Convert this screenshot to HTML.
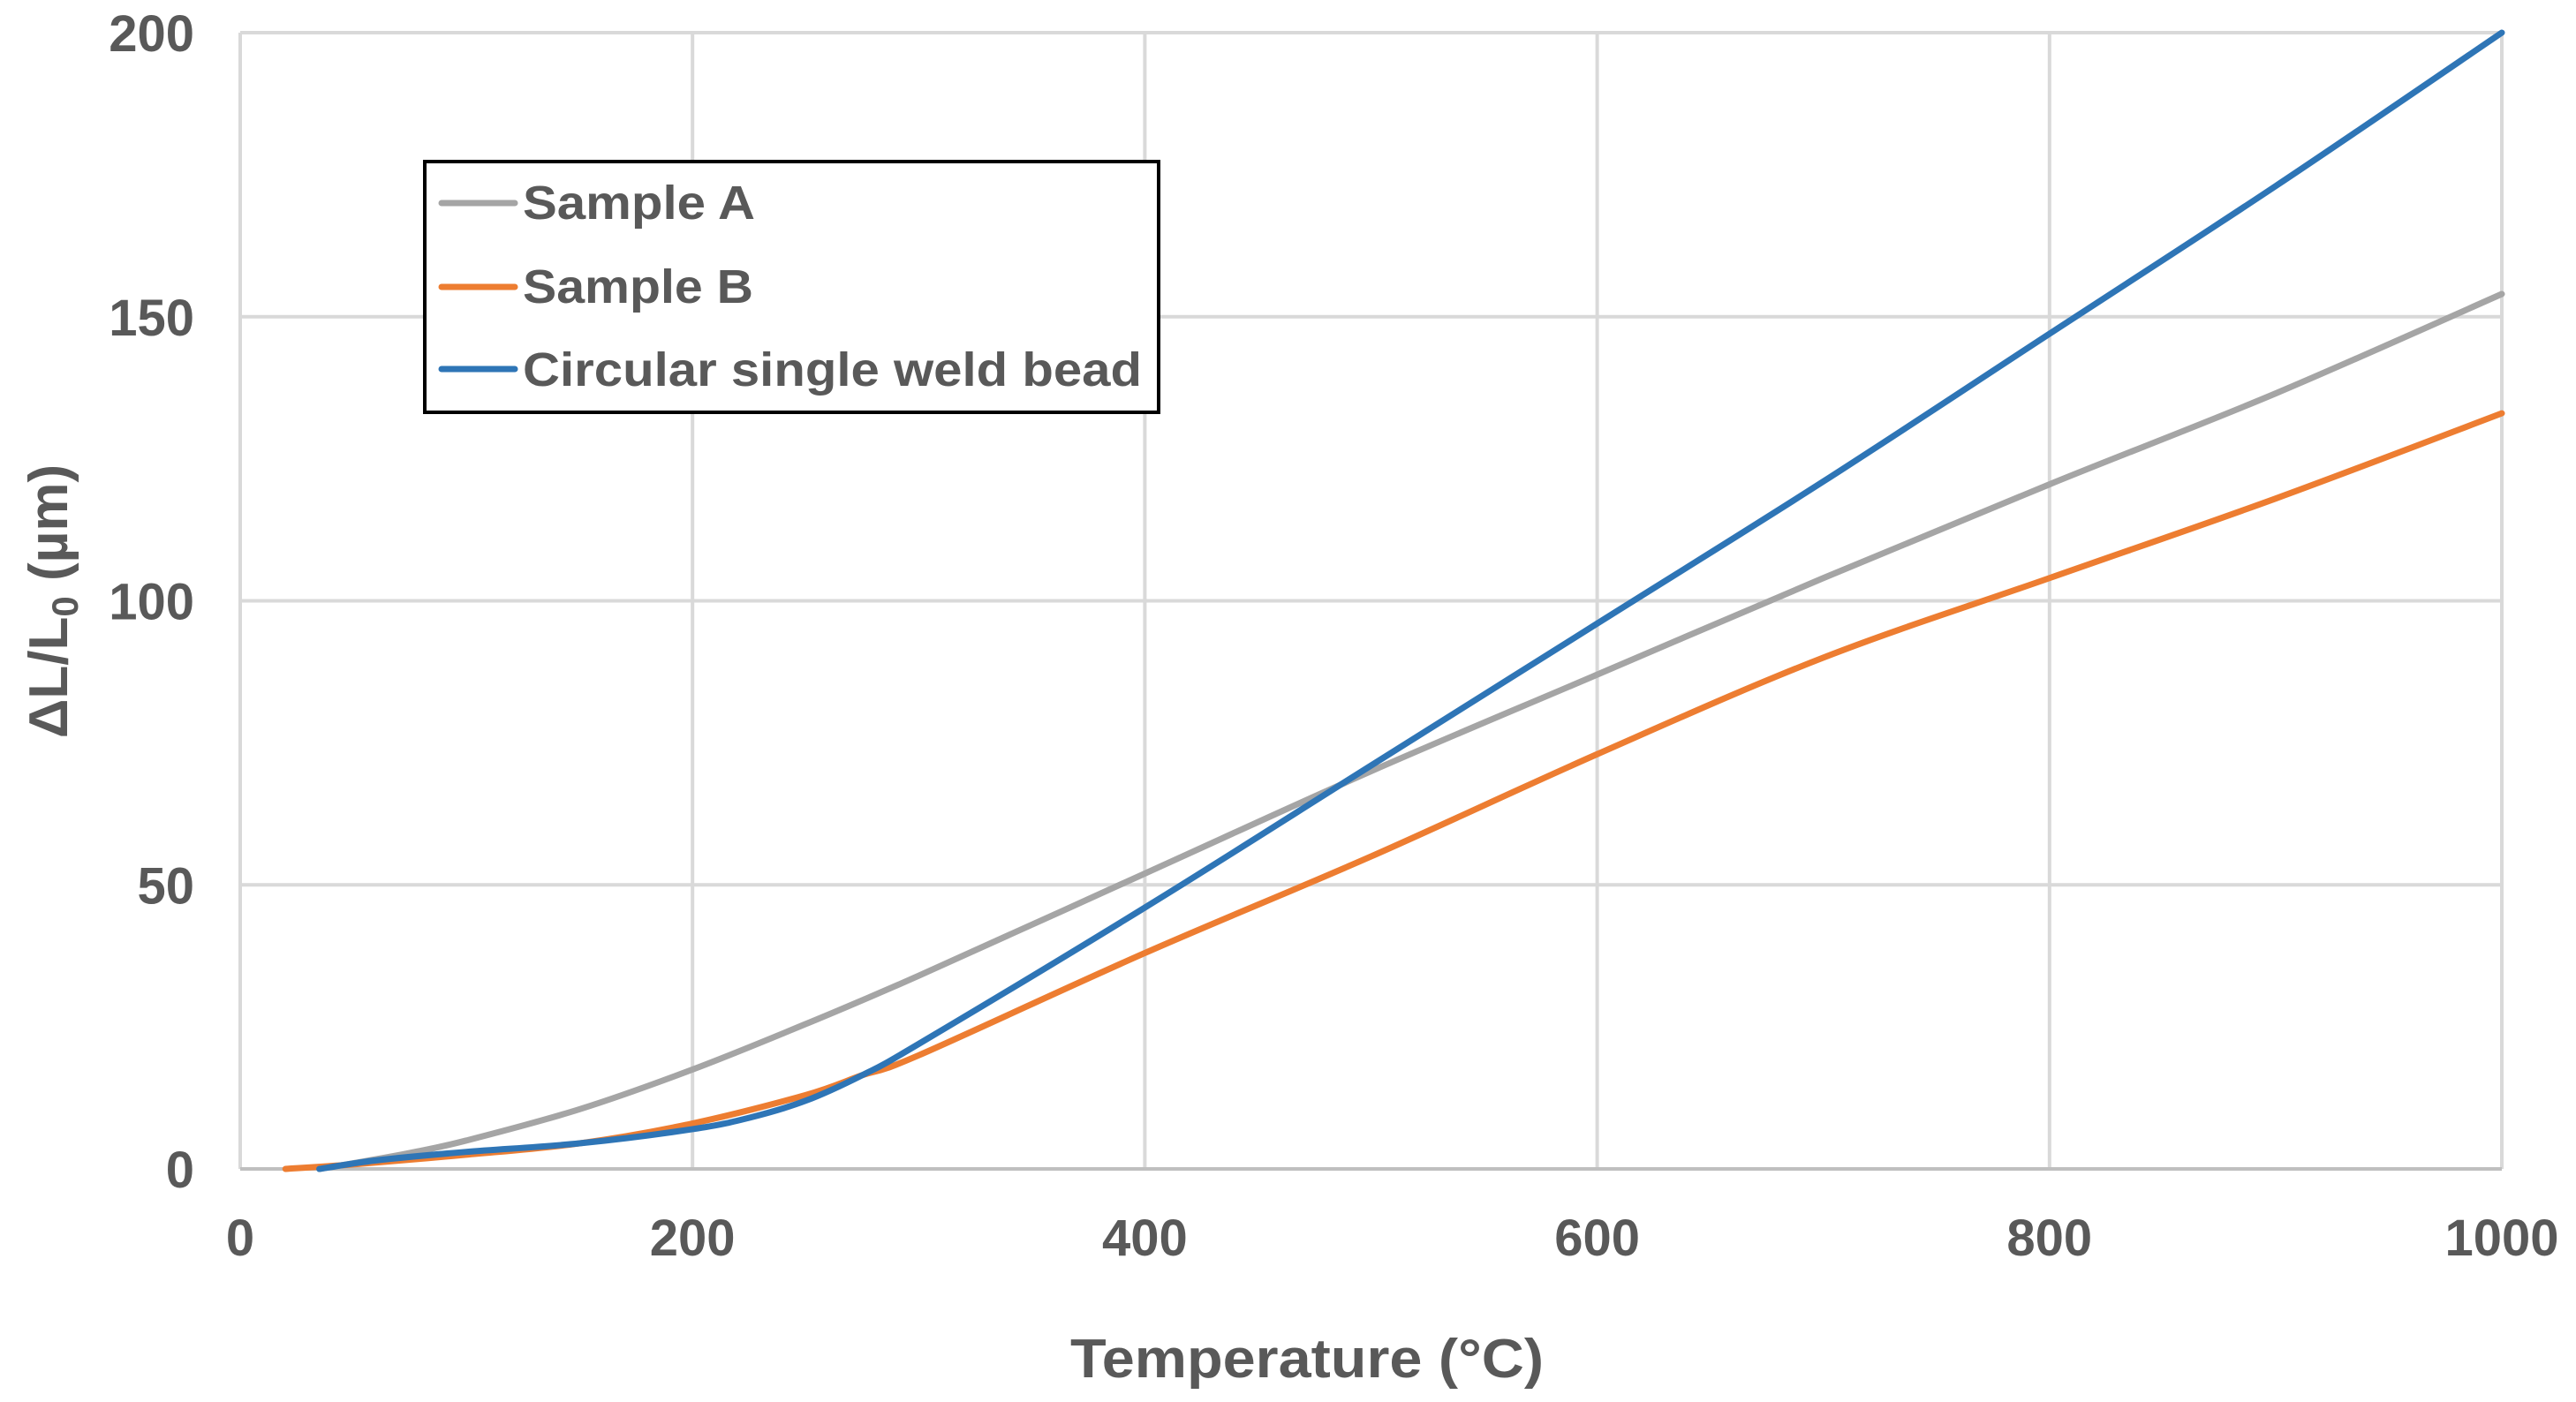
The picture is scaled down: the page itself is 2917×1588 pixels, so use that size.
<!DOCTYPE html>
<html><head><meta charset="utf-8"><style>
html,body{margin:0;padding:0;background:#fff;}
svg{display:block;}
text{font-family:"Liberation Sans",sans-serif;font-weight:bold;fill:#595959;}
</style></head><body>
<svg id="chart" width="2917" height="1588" viewBox="0 0 2917 1588" xmlns="http://www.w3.org/2000/svg">
<g id="grid"></g>
<g id="series"></g>
<g id="ticks"></g>
<text x="1480" y="1560" font-size="62" text-anchor="middle" textLength="536" lengthAdjust="spacingAndGlyphs">Temperature (°C)</text>
<text transform="translate(76,681) rotate(-90)" font-size="62" text-anchor="middle">ΔL/L<tspan font-size="42" dy="12">0</tspan><tspan dy="-12"> (µm)</tspan></text>
<g>
<rect x="481" y="183" width="831" height="284" fill="#fff" stroke="#000" stroke-width="4"/>
<g>
<line x1="500" y1="230" x2="583" y2="230" stroke="#A5A5A5" stroke-width="7" stroke-linecap="round"/>
<text x="592" y="248" font-size="54" textLength="263" lengthAdjust="spacingAndGlyphs">Sample A</text></g>
<g>
<line x1="500" y1="325" x2="583" y2="325" stroke="#ED7D31" stroke-width="7" stroke-linecap="round"/>
<text x="592" y="343" font-size="54" textLength="261" lengthAdjust="spacingAndGlyphs">Sample B</text></g>
<g>
<line x1="500" y1="418" x2="583" y2="418" stroke="#2E75B6" stroke-width="7" stroke-linecap="round"/>
<text x="592" y="437" font-size="54" textLength="701" lengthAdjust="spacingAndGlyphs">Circular single weld bead</text></g>
</g>
</svg>
<script>
const xTicks=[0,200,400,600,800,1000];
const yTicks=[0,50,100,150,200];
const tempA=[35,50,75,100,150,200,250,300,400,500,600,700,800,900,1000];
const valA=[0,1,2.8,5,10.5,17.5,25.5,34,52,70,87,104,120.5,136.5,154];
const tempB=[20,50,100,150,200,250,275,300,400,500,600,700,800,900,1000];
const valB=[0,0.8,2.5,4.5,8,13,16.5,20,38,55,73,90,104,118,133];
const tempC=[35,60,100,150,200,225,250,275,300,400,500,600,700,800,900,1000];
const valC=[0,1.5,3,4.5,7,9,12,16.5,22,46,71,96,121,147,173,200];
const L=272,R=2833,T=37,B=1324;
const sx=v=>L+(v-0)/(1000-0)*(R-L);
const sy=v=>B-(v-0)/(200-0)*(B-T);
const NS="http://www.w3.org/2000/svg";
const grid=document.getElementById('grid'),ticks=document.getElementById('ticks'),ser=document.getElementById('series');
function mk(tag,attrs,parent){const e=document.createElementNS(NS,tag);for(const k in attrs)e.setAttribute(k,attrs[k]);parent.appendChild(e);return e;}
xTicks.forEach(t=>{
 const g=mk('line',{x1:sx(t),x2:sx(t),y1:T,y2:B,stroke:'#D9D9D9','stroke-width':4},grid);
 
 
 const tx=mk('text',{x:sx(t),y:B+98,'font-size':58,'text-anchor':'middle'},ticks);tx.textContent=t;
 
 
});
yTicks.forEach(t=>{
 const g=mk('line',{x1:L,x2:R,y1:sy(t),y2:sy(t),stroke:t===0?'#BFBFBF':'#D9D9D9','stroke-width':4},grid);
 
 
 const tx=mk('text',{x:L-52,y:sy(t)+21,'font-size':58,'text-anchor':'end'},ticks);tx.textContent=t;
 
 
});
function path(xs,ys){
 const p=xs.map((x,i)=>[sx(x),sy(ys[i])]);
 let d='M'+p[0][0]+','+p[0][1];
 for(let i=0;i<p.length-1;i++){
  const p0=p[i-1]||p[i],p1=p[i],p2=p[i+1],p3=p[i+2]||p2;
  const c1=[p1[0]+(p2[0]-p0[0])/6,p1[1]+(p2[1]-p0[1])/6];
  const c2=[p2[0]-(p3[0]-p1[0])/6,p2[1]-(p3[1]-p1[1])/6];
  d+=` C${c1[0]},${c1[1]} ${c2[0]},${c2[1]} ${p2[0]},${p2[1]}`;
 }
 return d;
}
const la=mk('path',{d:path(tempA,valA),fill:'none',stroke:'#A5A5A5','stroke-width':7,'stroke-linecap':'round'},ser);


const lb=mk('path',{d:path(tempB,valB),fill:'none',stroke:'#ED7D31','stroke-width':7,'stroke-linecap':'round'},ser);


const lc=mk('path',{d:path(tempC,valC),fill:'none',stroke:'#2E75B6','stroke-width':7,'stroke-linecap':'round'},ser);


</script>
</body></html>
